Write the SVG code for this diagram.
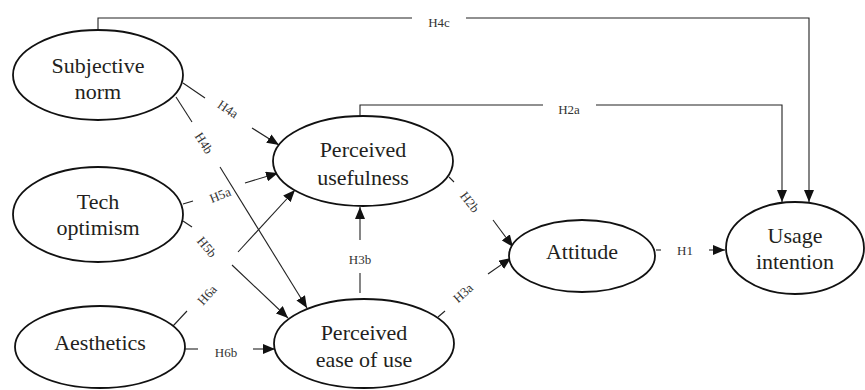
<svg xmlns="http://www.w3.org/2000/svg" width="865" height="390" viewBox="0 0 865 390">
<style>
.node ellipse{fill:#fff;stroke:#111;stroke-width:1.8}
.node text{font-family:'Liberation Serif','Times New Roman',serif;font-size:22px;fill:#231f20;text-anchor:middle}
.conn line,.conn polyline{stroke:#222;stroke-width:1.1;fill:none}
.lbl{font-family:'Liberation Serif','Times New Roman',serif;font-size:13px;fill:#333;text-anchor:middle;dominant-baseline:central}
</style>
<defs>
<marker id="arr" viewBox="0 0 12 10" refX="12" refY="5" markerWidth="12" markerHeight="10" markerUnits="userSpaceOnUse" orient="auto">
<path d="M0,0 L12,5 L0,10 z" fill="#111"/>
</marker>
</defs>
<rect width="865" height="390" fill="#fff"/>
<g class="conn" id="connectors">
<polyline points="98,30 98,18 412,18"/>
<polyline points="466,18 809,18 809,202" marker-end="url(#arr)"/>
<polyline points="360,116 360,105 543,105"/>
<polyline points="596,105 782,105 782,202" marker-end="url(#arr)"/>
<line x1="183" y1="83" x2="205" y2="98"/>
<line x1="252" y1="128" x2="279" y2="145" marker-end="url(#arr)"/>
<line x1="176" y1="97" x2="192" y2="122"/>
<line x1="220" y1="167" x2="307" y2="308" marker-end="url(#arr)"/>
<line x1="183" y1="204" x2="193" y2="201"/>
<line x1="245" y1="183" x2="278" y2="173" marker-end="url(#arr)"/>
<line x1="183" y1="221" x2="192" y2="227"/>
<line x1="232" y1="265" x2="288" y2="318" marker-end="url(#arr)"/>
<line x1="173" y1="326" x2="187" y2="311"/>
<line x1="238" y1="252" x2="295" y2="190" marker-end="url(#arr)"/>
<line x1="185" y1="349" x2="198" y2="349"/>
<line x1="253" y1="349" x2="275" y2="349" marker-end="url(#arr)"/>
<line x1="360" y1="293" x2="360" y2="273"/>
<line x1="360" y1="240" x2="360" y2="207" marker-end="url(#arr)"/>
<line x1="449" y1="177" x2="454" y2="182"/>
<line x1="493" y1="220" x2="513" y2="247" marker-end="url(#arr)"/>
<line x1="438" y1="317" x2="445" y2="311"/>
<line x1="488" y1="274" x2="511" y2="258" marker-end="url(#arr)"/>
<line x1="656" y1="250" x2="661" y2="250"/>
<line x1="709" y1="250" x2="725" y2="250" marker-end="url(#arr)"/>
<text class="lbl" x="439" y="22">H4c</text>
<text class="lbl" x="569" y="109">H2a</text>
<text class="lbl" transform="translate(228,109) rotate(34)">H4a</text>
<text class="lbl" transform="translate(204,143) rotate(57)">H4b</text>
<text class="lbl" transform="translate(220,195) rotate(-22)">H5a</text>
<text class="lbl" transform="translate(207,247) rotate(50)">H5b</text>
<text class="lbl" transform="translate(207,295) rotate(-48)">H6a</text>
<text class="lbl" x="226" y="352">H6b</text>
<text class="lbl" x="360" y="259">H3b</text>
<text class="lbl" transform="translate(470,202) rotate(52)">H2b</text>
<text class="lbl" transform="translate(463,293) rotate(-42)">H3a</text>
<text class="lbl" x="685" y="250">H1</text>
</g>
<g class="node" id="subjective-norm">
<ellipse cx="98" cy="75" rx="85" ry="45"/>
<text x="98" y="73">Subjective</text>
<text x="98" y="99">norm</text>
</g>
<g class="node" id="tech-optimism">
<ellipse cx="98" cy="214.5" rx="85" ry="47.5"/>
<text x="98" y="209">Tech</text>
<text x="98" y="235">optimism</text>
</g>
<g class="node" id="aesthetics">
<ellipse cx="100" cy="347" rx="85" ry="41"/>
<text x="100" y="350">Aesthetics</text>
</g>
<g class="node" id="perceived-usefulness">
<ellipse cx="363" cy="161" rx="90" ry="45"/>
<text x="363" y="157">Perceived</text>
<text x="363" y="185">usefulness</text>
</g>
<g class="node" id="perceived-ease-of-use">
<ellipse cx="364" cy="343.5" rx="90" ry="44.5"/>
<text x="364" y="340">Perceived</text>
<text x="364" y="367">ease of use</text>
</g>
<g class="node" id="attitude">
<ellipse cx="582" cy="256" rx="73" ry="36"/>
<text x="582" y="259">Attitude</text>
</g>
<g class="node" id="usage-intention">
<ellipse cx="795" cy="248" rx="69" ry="46"/>
<text x="795" y="243">Usage</text>
<text x="795" y="269">intention</text>
</g>
</svg>
